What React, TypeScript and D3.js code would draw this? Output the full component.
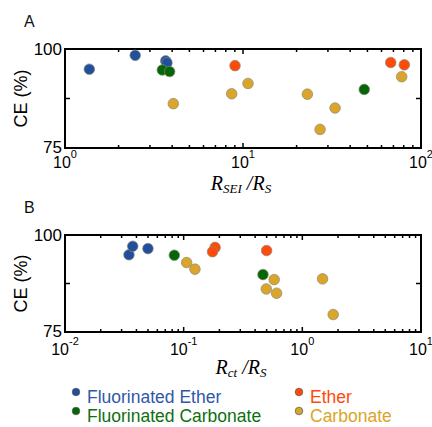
import React from 'react';
import * as d3 from 'd3';

// panel A: R_SEI / R_S vs CE
const seiFE = [[1.37, 94.9], [2.48, 98.4], [3.68, 97.0], [3.74, 96.5]];
const seiFC = [[3.52, 94.7], [3.87, 94.3], [48.0, 89.8]];
const seiEther = [[9.02, 95.8], [67.6, 96.6], [80.6, 96.0]];
const seiCarb = [[4.06, 86.2], [8.64, 88.7], [10.67, 91.3], [23.0, 88.6], [27.1, 79.7], [32.9, 85.1], [77.9, 93.0]];

// panel B: R_ct / R_S vs CE
const ctFE = [[0.0346, 94.9], [0.0372, 97.1], [0.05, 96.5]];
const ctFC = [[0.0834, 94.8], [0.466, 89.8]];
const ctEther = [[0.184, 96.8], [0.175, 95.7], [0.5, 96.0]];
const ctCarb = [[0.106, 92.9], [0.1245, 91.2], [0.579, 88.5], [0.497, 86.1], [0.607, 85.0], [1.48, 88.7], [1.82, 79.5]];

const groups = ['Fluorinated Ether', 'Fluorinated Carbonate', 'Ether', 'Carbonate'];
const colors = ['#214f9b', '#046604', '#ff4a0a', '#daa52a'];
const textColors = ['#2f58a8', '#0e7010', '#ff4a0a', '#daa52a'];

const yTicks = [75, 87.5, 100];

const left = 65, right = 421;

function Panel({ top, bottom, domain, series, sub, letter, tickDy }) {
  const x = d3.scaleLog().domain(domain).range([left, right]);
  const y = d3.scaleLinear().domain([75, 100]).range([bottom, top]);
  const majors = x.ticks().filter(t => Math.abs(Math.log10(t) - Math.round(Math.log10(t))) < 1e-9);
  const minors = x.ticks().filter(t => !majors.includes(t));
  const ticks = [];
  majors.forEach((t, i) => {
    ticks.push(<line key={'mt' + i} x1={x(t)} x2={x(t)} y1={top} y2={top + 5} />);
    ticks.push(<line key={'mb' + i} x1={x(t)} x2={x(t)} y1={bottom} y2={bottom - 5} />);
  });
  minors.forEach((t, i) => {
    ticks.push(<line key={'nt' + i} x1={x(t)} x2={x(t)} y1={top} y2={top + 3} />);
    ticks.push(<line key={'nb' + i} x1={x(t)} x2={x(t)} y1={bottom} y2={bottom - 3} />);
  });
  yTicks.forEach((t, i) => {
    ticks.push(<line key={'yl' + i} x1={left} x2={left + 5} y1={y(t)} y2={y(t)} />);
    ticks.push(<line key={'yr' + i} x1={right} x2={right - 5} y1={y(t)} y2={y(t)} />);
  });
  return (
    <g>
      <text x={24} y={top - 22} fontSize={16} fill="#111">{letter}</text>
      <g stroke="#000" strokeWidth={1.5}>{ticks}</g>
      <rect x={left} y={top} width={right - left} height={bottom - top} fill="none" stroke="#000" strokeWidth={2} />
      <text x={62} y={top + 6} fontSize={17} textAnchor="end">100</text>
      <text x={62} y={bottom + 5} fontSize={17} textAnchor="end">75</text>
      <text transform={`translate(27,${(top + bottom) / 2}) rotate(-90)`} fontSize={18} textAnchor="middle">CE (%)</text>
      {majors.map((t, i) => (
        <text key={'xl' + i} x={x(t)} y={bottom + tickDy} fontSize={16} textAnchor="middle">
          10<tspan dy={-10} fontSize={11}>{Math.round(Math.log10(t))}</tspan>
        </text>
      ))}
      <text x={(left + right) / 2 - 2} y={bottom + 42} fontSize={20} textAnchor="middle" fontFamily="'Liberation Serif', serif" fontStyle="italic">
        R<tspan fontSize={13} dy={3}>{sub}</tspan><tspan dy={-3}> /R</tspan><tspan fontSize={13} dy={3}>S</tspan>
      </text>
      {series.map((pts, gi) => (
        <g key={gi} fill={colors[gi]} stroke="#8a8a7a" strokeWidth={0.7}>
          {pts.map((p, i) => <circle key={i} cx={x(p[0])} cy={y(p[1])} r={5.3} />)}
        </g>
      ))}
    </g>
  );
}

export default function App() {
  const legendPos = [[76, 403], [76, 422], [299, 403], [299, 422]];
  return (
    <svg width={432} height={427} style={{ display: 'block', position: 'absolute', left: 0, top: 0 }}
      fontFamily="'Liberation Sans', Arial, sans-serif">
      <rect width={432} height={427} fill="#fff" />
      <Panel top={49} bottom={148} domain={[1, 100]} series={[seiFE, seiFC, seiEther, seiCarb]} sub="SEI" letter="A" tickDy={20} />
      <Panel top={235} bottom={332} domain={[0.01, 10]} series={[ctFE, ctFC, ctEther, ctCarb]} sub="ct" letter="B" tickDy={23} />
      {groups.map((g, i) => (
        <g key={g}>
          <circle cx={legendPos[i][0]} cy={legendPos[i][1] - 11} r={3.8} fill={colors[i]} stroke="#555" strokeWidth={0.7} />
          <text x={legendPos[i][0] + 11} y={legendPos[i][1]} fontSize={17.5} fill={textColors[i]}>{g}</text>
        </g>
      ))}
    </svg>
  );
}
